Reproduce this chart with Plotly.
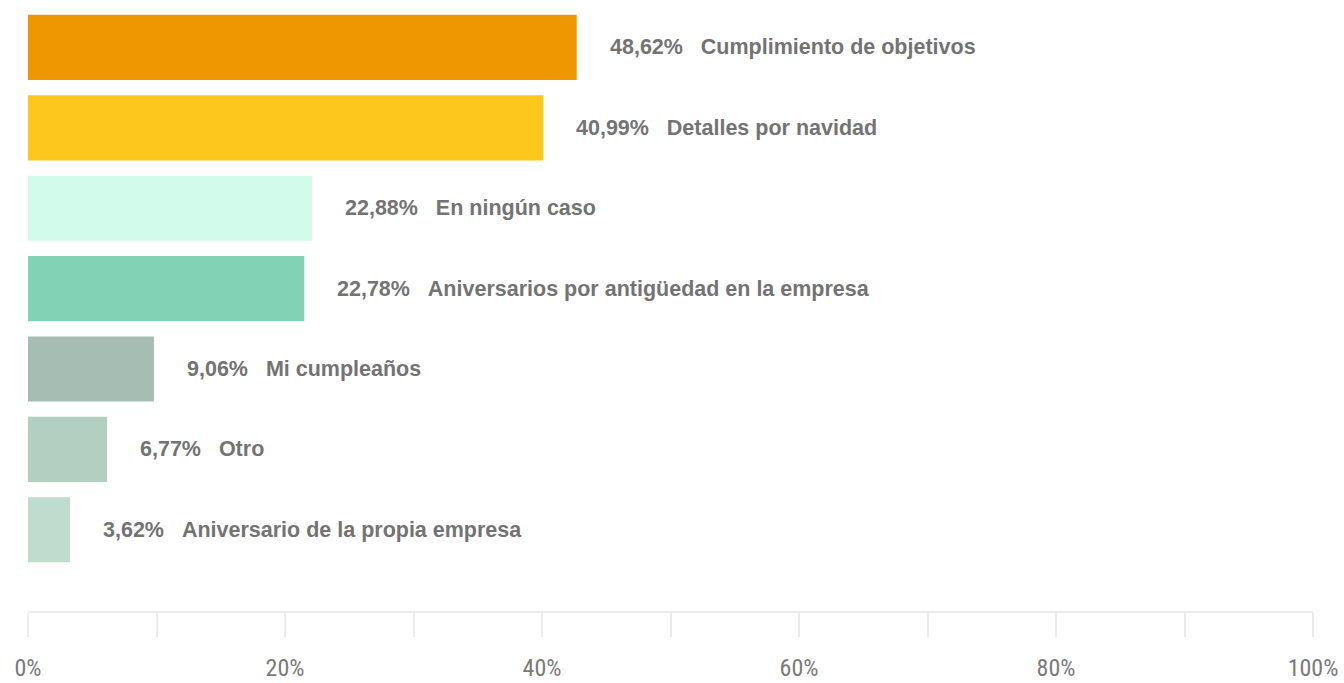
import plotly.graph_objects as go

categories = [
    "Cumplimiento de objetivos",
    "Detalles por navidad",
    "En ningún caso",
    "Aniversarios por antigüedad en la empresa",
    "Mi cumpleaños",
    "Otro",
    "Aniversario de la propia empresa",
]
pct_labels = ["48,62%", "40,99%", "22,88%", "22,78%", "9,06%", "6,77%", "3,62%"]
# bar lengths as drawn against the axis (percent)
bar_lengths = [42.7, 40.1, 22.1, 21.5, 9.8, 6.15, 3.27]
colors = ["#EE9700", "#FDC81B", "#D2FBEC", "#82D3B6", "#A6BDB3", "#B3CFC1", "#BEDDCE"]

tick_vals = [0, 10, 20, 30, 40, 50, 60, 70, 80, 90, 100]
tick_text = ["0%", "", "20%", "", "40%", "", "60%", "", "80%", "", "100%"]

NARROW = "Liberation Sans Narrow, Arial Narrow, Roboto Condensed, sans-serif"
ARIAL = "Liberation Sans, Arial, sans-serif"

fig = go.Figure()
fig.add_trace(go.Bar(
    x=bar_lengths,
    y=categories,
    orientation="h",
    marker=dict(color=colors, line=dict(width=0)),
    hoverinfo="skip",
))

nb = "\u00a0"
for cat, pct, val in zip(categories, pct_labels, bar_lengths):
    fig.add_annotation(
        x=val, y=cat, xref="x", yref="y",
        text=f"<b>{pct}{nb*3}{cat}</b>",
        showarrow=False, xanchor="left", yanchor="middle",
        xshift=31,
        font=dict(family=ARIAL, size=21.5, color="#737373"),
    )

n = len(categories)
fig.update_layout(
    width=1344, height=683,
    margin=dict(l=28, r=31, t=0, b=72, autoexpand=False),
    paper_bgcolor="white", plot_bgcolor="white",
    showlegend=False,
    bargap=0.19,
    xaxis=dict(
        range=[0, 100],
        automargin=False,
        tickvals=tick_vals, ticktext=tick_text,
        ticks="outside", ticklen=24, tickwidth=2, tickcolor="#ebebeb",
        showline=True, linecolor="#ebebeb", linewidth=2,
        showgrid=False, zeroline=False,
        ticklabelstandoff=10,
        tickfont=dict(family=NARROW, size=24, color="#7a7a7a"),
        fixedrange=True,
    ),
    yaxis=dict(
        categoryorder="array", categoryarray=categories,
        range=[n - 1 + 1.01, -0.59],
        automargin=False,
        showticklabels=False, showgrid=False, zeroline=False, showline=False,
        ticks="",
        fixedrange=True,
    ),
)

fig.write_html(
    "out.html",
    config={"displayModeBar": False},
    post_script="document.body.style.margin='0';document.body.style.overflow='hidden';",
)
